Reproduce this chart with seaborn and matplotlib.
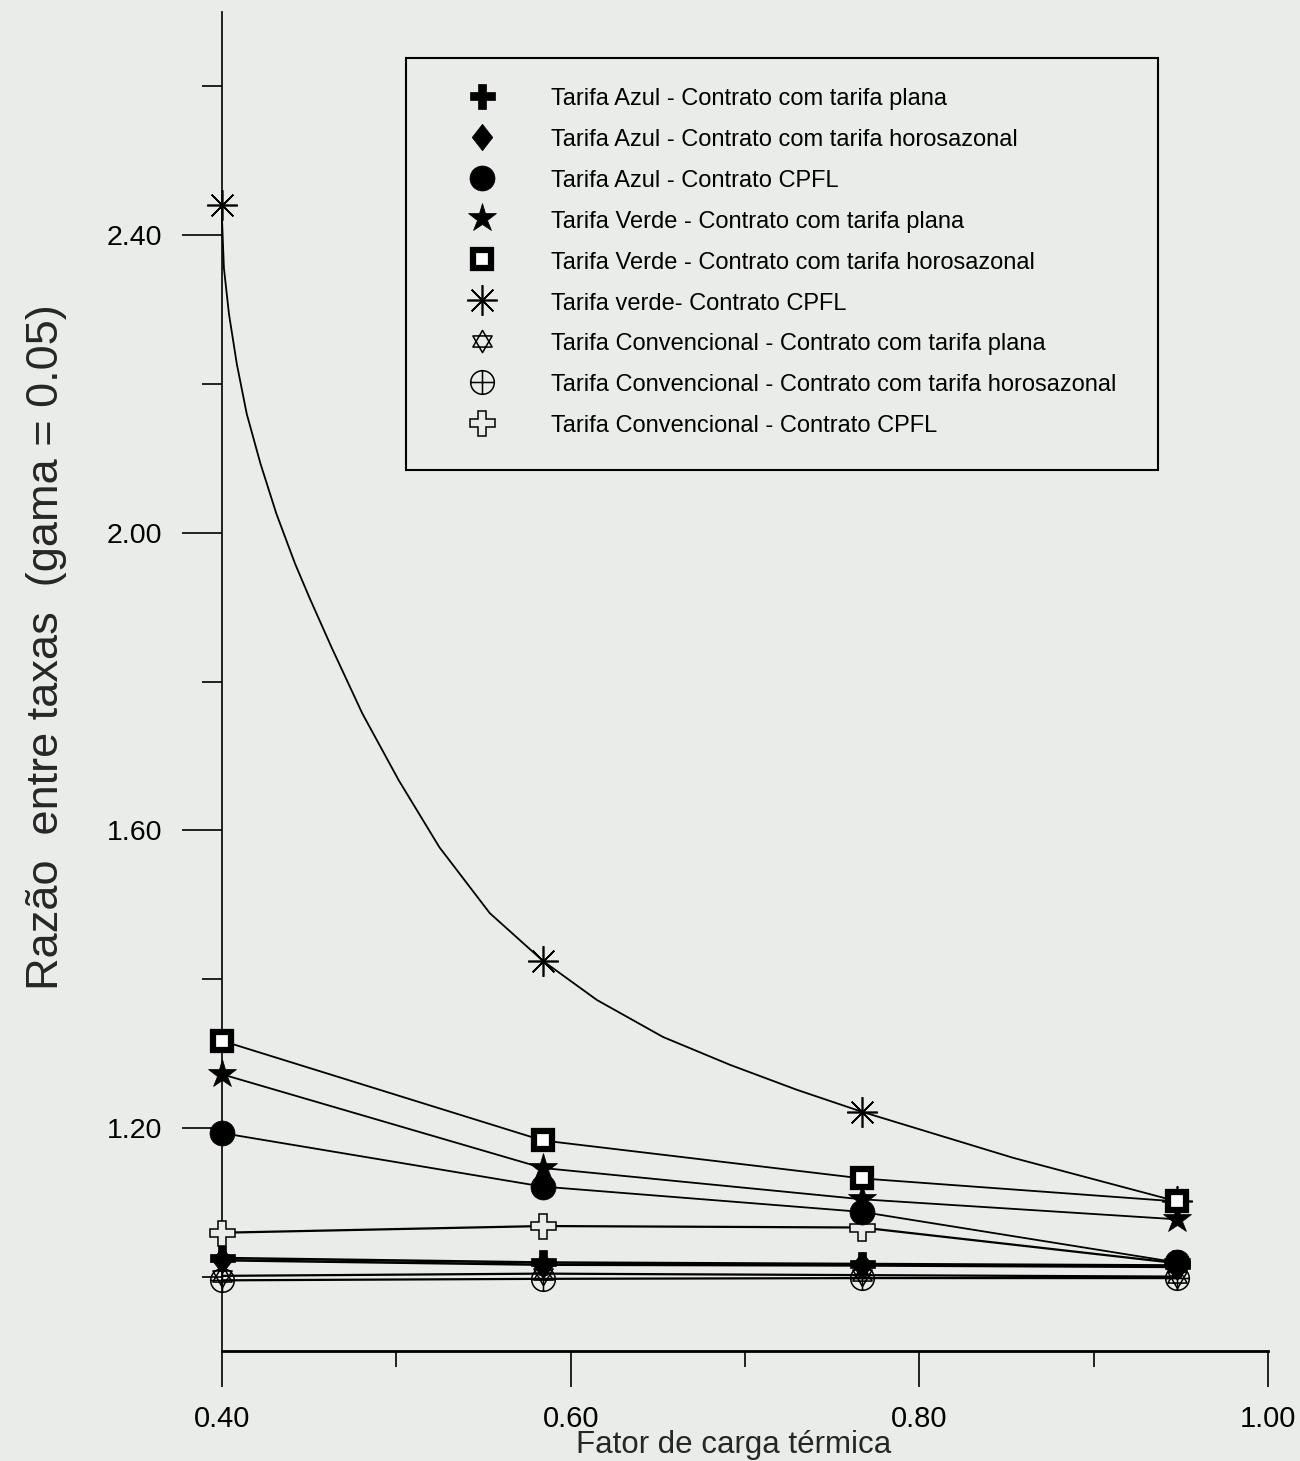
import matplotlib
matplotlib.use("Agg")
import numpy as np
import pandas as pd
import seaborn as sns
import matplotlib.pyplot as plt
from matplotlib.path import Path
from matplotlib.lines import Line2D
from matplotlib.patches import Rectangle
from matplotlib.ticker import FixedLocator, FormatStrFormatter

# ---------------------------------------------------------------- data
fator = [0.40, 0.584, 0.767, 0.948]

azul_plana = [1.025, 1.019, 1.017, 1.015]
azul_horosazonal = [1.022, 1.016, 1.015, 1.013]
azul_cpfl = [1.193, 1.121, 1.087, 1.019]
verde_plana = [1.272, 1.146, 1.104, 1.077]
verde_horosazonal = [1.317, 1.183, 1.132, 1.101]
verde_cpfl = [2.440, 1.424, 1.221, 1.101]
conv_plana = [1.001, 1.004, 1.002, 1.000]
conv_horosazonal = [0.995, 0.997, 0.998, 0.998]
conv_cpfl = [1.059, 1.068, 1.066, 1.018]

# traced course of the "Tarifa verde - Contrato CPFL" curve
verde_cpfl_curva_x = [0.4000, 0.4000, 0.4011, 0.4040, 0.4085, 0.4142, 0.4221, 0.4312,
                      0.4419, 0.4504, 0.4629, 0.4805, 0.5014, 0.5247, 0.5536, 0.5842,
                      0.6151, 0.6530, 0.6915, 0.7299, 0.7672, 0.8538, 0.9485]
verde_cpfl_curva_y = [2.4403, 2.4013, 2.3557, 2.2940, 2.2268, 2.1597, 2.0926, 2.0255,
                      1.9584, 1.9114, 1.8456, 1.7570, 1.6671, 1.5772, 1.4886, 1.4242,
                      1.3718, 1.3221, 1.2846, 1.2510, 1.2215, 1.1597, 1.1007]

legend_labels = [
    "Tarifa Azul - Contrato com tarifa plana",
    "Tarifa Azul - Contrato com tarifa horosazonal",
    "Tarifa Azul - Contrato CPFL",
    "Tarifa Verde - Contrato com tarifa plana",
    "Tarifa Verde - Contrato com tarifa horosazonal",
    "Tarifa verde- Contrato CPFL",
    "Tarifa Convencional - Contrato com tarifa plana",
    "Tarifa Convencional - Contrato com tarifa horosazonal",
    "Tarifa Convencional - Contrato CPFL",
]

x_major = [0.40, 0.60, 0.80, 1.00]
x_minor = [0.50, 0.70, 0.90]
y_major = [1.20, 1.60, 2.00, 2.40]
y_minor = [1.00, 1.40, 1.80, 2.20, 2.60]

# ---------------------------------------------------------------- style
PAPER = "#e9ece8"
sns.set_theme(style="ticks")
plt.rcParams["font.family"] = ["Liberation Sans", "DejaVu Sans"]
plt.rcParams["axes.edgecolor"] = "black"
plt.rcParams["text.color"] = "black"
plt.rcParams["xtick.color"] = "black"
plt.rcParams["ytick.color"] = "black"

# custom marker shapes
_M, _L, _C = Path.MOVETO, Path.LINETO, Path.CLOSEPOLY
hexagram = Path(
    [(0, 1), (0.866, -0.5), (-0.866, -0.5), (0, 1),
     (0, -1), (0.866, 0.5), (-0.866, 0.5), (0, -1)],
    [_M, _L, _L, _C, _M, _L, _L, _C])
oplus = Path.make_compound_path(
    Path.unit_circle(),
    Path([(-1, 0), (1, 0), (0, -1), (0, 1)], [_M, _L, _M, _L]))
diamond = Path([(0, 1), (0.78, 0), (0, -1), (-0.78, 0), (0, 1)],
               [_M, _L, _L, _L, _C])

marker_styles = [
    dict(marker="P", markersize=18, markerfacecolor="black", markeredgecolor="black", markeredgewidth=0.5),
    dict(marker=diamond, markersize=19, markerfacecolor="black", markeredgecolor="black", markeredgewidth=0.5),
    dict(marker="o", markersize=18, markerfacecolor="black", markeredgecolor="black", markeredgewidth=0.5),
    dict(marker="*", markersize=21, markerfacecolor="black", markeredgecolor="black", markeredgewidth=0.5),
    dict(marker="s", markersize=13, markerfacecolor="white", markeredgecolor="black", markeredgewidth=4.5),
    dict(marker=(8, 2, 0), markersize=22, markerfacecolor="black", markeredgecolor="black", markeredgewidth=1.2),
    dict(marker=hexagram, markersize=16, markerfacecolor="none", markeredgecolor="black", markeredgewidth=1.1),
    dict(marker=oplus, markersize=17, markerfacecolor="none", markeredgecolor="black", markeredgewidth=1.1),
    dict(marker="P", markersize=18, markerfacecolor=PAPER, markeredgecolor="black", markeredgewidth=1.1),
]

series = [azul_plana, azul_horosazonal, azul_cpfl, verde_plana, verde_horosazonal,
          verde_cpfl, conv_plana, conv_horosazonal, conv_cpfl]
line_widths = [1.8, 1.8, 1.3, 1.3, 1.3, 1.3, 1.6, 1.6, 1.6]
# hollow symbols first, filled ones on top of them
draw_order = [8, 6, 7, 0, 1, 5, 3, 4, 2]

# ---------------------------------------------------------------- figure
fig = plt.figure(figsize=(13, 14.61), dpi=100, facecolor=PAPER)
ax = fig.add_axes([222 / 1300, 1 - 1351 / 1461, 1046 / 1300, 1339 / 1461])
ax.set_facecolor(PAPER)

# connecting curves
for i, vals in enumerate(series):
    if i == 5:
        cx, cy = verde_cpfl_curva_x, verde_cpfl_curva_y
    else:
        cx, cy = fator, vals
    sns.lineplot(x=cx, y=cy, sort=False, color="black", linewidth=line_widths[i],
                 ax=ax, zorder=2, legend=False, clip_on=False)

# markers
for k, i in enumerate(draw_order):
    sns.lineplot(x=fator, y=series[i], sort=False, linestyle="none", color="black",
                 ax=ax, zorder=3 + 0.01 * k, legend=False, clip_on=False,
                 **marker_styles[i])

ax.set_xlim(0.40, 1.00)
ax.set_ylim(0.90, 2.70)

for side in ("top", "right"):
    ax.spines[side].set_visible(False)
ax.spines["left"].set_linewidth(1.2)
ax.spines["bottom"].set_linewidth(2.0)

ax.xaxis.set_major_locator(FixedLocator(x_major))
ax.xaxis.set_minor_locator(FixedLocator(x_minor))
ax.yaxis.set_major_locator(FixedLocator(y_major))
ax.yaxis.set_minor_locator(FixedLocator(y_minor))
ax.xaxis.set_major_formatter(FormatStrFormatter("%.2f"))
ax.yaxis.set_major_formatter(FormatStrFormatter("%.2f"))

ax.tick_params(axis="x", which="major", direction="out", length=26, width=1.2,
               pad=13, labelsize=21)
ax.tick_params(axis="x", which="minor", direction="out", length=11.5, width=1.2)
ax.tick_params(axis="y", which="major", direction="out", length=29, width=1.2,
               pad=14, labelsize=20.5)
ax.tick_params(axis="y", which="minor", direction="out", length=14.4, width=1.2)

ax.set_xlabel("Fator de carga térmica", fontsize=22.5, va="center")
ax.xaxis.set_label_coords(0.4895, -0.0702)
ax.set_ylabel("Razão  entre taxas  (gama = 0.05)", fontsize=32.5, va="center")
ax.yaxis.set_label_coords(-0.168, 0.526)

# legend: marker-only handles inside a plain rectangular frame
fs_leg = 17
f_px = fs_leg * 100 / 72
handles = [Line2D([], [], linestyle="none", color="black", **st) for st in marker_styles]
hl = 2.0
leg = ax.legend(handles, legend_labels, loc="upper left",
                bbox_to_anchor=((482 - hl * f_px / 2) / 1300, 1 - 86.5 / 1461),
                bbox_transform=fig.transFigure, borderaxespad=0, borderpad=0,
                frameon=False, prop={"size": fs_leg},
                handlelength=hl, handletextpad=(551 - 482 - hl * f_px / 2) / f_px,
                labelspacing=0.73, handleheight=1.0)
fig.patches.append(Rectangle((406 / 1300, 1 - 470 / 1461), (1158 - 406) / 1300,
                             (470 - 58) / 1461, transform=fig.transFigure,
                             fill=False, edgecolor="black", linewidth=1.5, zorder=5))

fig.savefig("out.png", dpi=100, facecolor=PAPER)
